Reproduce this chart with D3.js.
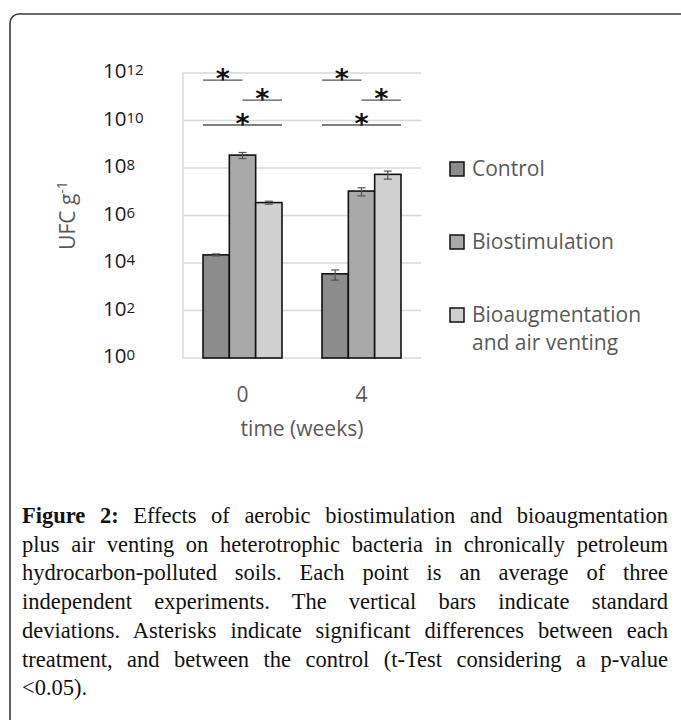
<!DOCTYPE html>
<html>
<head>
<meta charset="utf-8">
<script src="https://cdn.jsdelivr.net/npm/d3@7"></script>
<style>
  body { margin: 0; background: #fff; }
  #wrap { position: relative; width: 681px; height: 720px; overflow: hidden; }
  svg { position: absolute; left: 0; top: 0; }
  .tick-y { font-family: 'Open Sans', sans-serif; fill: #1a1a1a; }
  .label { font-family: 'Open Sans', sans-serif; fill: #595959; font-size: 21px; }
  #caption {
    position: absolute; left: 22px; top: 502px; width: 646px;
    font-family: 'Liberation Serif', 'Times New Roman', serif;
    font-size: 22.5px; line-height: 28.7px; color: #111;
  }
  #caption div { text-align: justify; text-align-last: justify; white-space: nowrap; }
  #caption div.last { text-align-last: left; }
</style>
</head>
<body>
<div id="wrap">
  <svg id="chart" width="681" height="720"></svg>
  <div id="caption"></div>
</div>
<script>
const weeks = ['0', '4'];
const series = ['Control', 'Biostimulation', 'Bioaugmentation and air venting'];
const control = [2.2e4, 3.5e3];
const biostimulation = [3.5e8, 1.07e7];
const bioaugmentation = [3.5e6, 5.4e7];
const controlSd = [2.2e3, 1.6e3];
const biostimulationSd = [1.0e8, 4.0e6];
const bioaugmentationSd = [0.5e6, 2.0e7];
const yTicks = [0, 2, 4, 6, 8, 10, 12]; // exponents of 10
// significance brackets: pairs of series and the level (log10 UFC) where drawn
const sigPairs = [[0, 1], [1, 2], [0, 2]];
const sigLevels = [11.7, 10.86, 9.81];

const captionLines = [
  'Effects of aerobic biostimulation and bioaugmentation',
  'plus air venting on heterotrophic bacteria in chronically petroleum',
  'hydrocarbon-polluted soils. Each point is an average of three',
  'independent experiments. The vertical bars indicate standard',
  'deviations. Asterisks indicate significant differences between each',
  'treatment, and between the control (t-Test considering a p-value',
  '<0.05).',
];

const values = [control, biostimulation, bioaugmentation];
const sds = [controlSd, biostimulationSd, bioaugmentationSd];
const colors = ['#8c8c8c', '#a9a9a9', '#d0d0d0'];

const svg = d3.select('#chart');

// frame
svg.append('rect')
  .attr('x', 10).attr('y', 14)
  .attr('width', 720).attr('height', 760)
  .attr('rx', 9)
  .attr('fill', 'none')
  .attr('stroke', '#3a3a3a')
  .attr('stroke-width', 1.6);

const plot = { left: 183, right: 421, top: 73, bottom: 358 };

const x0 = d3.scaleBand().domain(weeks).range([plot.left, plot.right]).padding(0);
const x1 = d3.scaleBand().domain(d3.range(series.length))
  .range([0, x0.bandwidth()]).paddingInner(0).paddingOuter(0.76);
const y = d3.scaleLog().domain([1, 1e12]).range([plot.bottom, plot.top]);

// gridlines
svg.append('g')
  .selectAll('line')
  .data(yTicks)
  .join('line')
  .attr('x1', plot.left)
  .attr('x2', plot.right)
  .attr('y1', (e) => y(Math.pow(10, e)))
  .attr('y2', (e) => y(Math.pow(10, e)))
  .attr('stroke', '#d9d9d9')
  .attr('stroke-width', 1.5);

// left axis line
svg.append('line')
  .attr('x1', plot.left).attr('x2', plot.left)
  .attr('y1', plot.top).attr('y2', plot.bottom)
  .attr('stroke', '#d9d9d9').attr('stroke-width', 1.5);

// y tick labels 10^n
const yl = svg.append('g')
  .selectAll('text')
  .data(yTicks)
  .join('text')
  .attr('class', 'tick-y')
  .attr('x', 103)
  .attr('y', (e) => y(Math.pow(10, e)) + 5)
  .attr('font-size', 20.5);
yl.append('tspan').text('10');
yl.append('tspan').attr('font-size', 15).attr('dy', -3).text((e) => e);

// bars
const groups = svg.append('g')
  .selectAll('g')
  .data(weeks)
  .join('g')
  .attr('transform', (d) => `translate(${x0(d)},0)`);

const barData = (d, wi) => series.map((s, si) => ({
  si,
  v: values[si][wi],
  sd: sds[si][wi],
}));

groups.each(function (d, wi) {
  const g = d3.select(this);
  const data = barData(d, wi);

  g.selectAll('rect')
    .data(data)
    .join('rect')
    .attr('x', (b) => x1(b.si))
    .attr('y', (b) => y(b.v))
    .attr('width', x1.bandwidth())
    .attr('height', (b) => y(1) - y(b.v))
    .attr('fill', (b) => colors[b.si])
    .attr('stroke', '#111')
    .attr('stroke-width', 1.6);

  // error bars
  const eb = g.selectAll('g.err')
    .data(data)
    .join('g')
    .attr('class', 'err')
    .attr('stroke', '#555')
    .attr('stroke-width', 1.2);
  const cx = (b) => x1(b.si) + x1.bandwidth() / 2;
  eb.append('line')
    .attr('x1', cx).attr('x2', cx)
    .attr('y1', (b) => y(b.v + b.sd))
    .attr('y2', (b) => y(Math.max(b.v - b.sd, 1)));
  eb.append('line')
    .attr('x1', (b) => cx(b) - 4).attr('x2', (b) => cx(b) + 4)
    .attr('y1', (b) => y(b.v + b.sd)).attr('y2', (b) => y(b.v + b.sd));
  eb.append('line')
    .attr('x1', (b) => cx(b) - 4).attr('x2', (b) => cx(b) + 4)
    .attr('y1', (b) => y(Math.max(b.v - b.sd, 1)))
    .attr('y2', (b) => y(Math.max(b.v - b.sd, 1)));

  // significance brackets
  const bw = x1.bandwidth();
  sigPairs.forEach(([a, b], i) => {
    const xa = a === 0 ? x1(a) : x1(a) + bw / 2;
    const xb = b === series.length - 1 ? x1(b) + bw : x1(b) + bw / 2;
    const ly = y(Math.pow(10, sigLevels[i]));
    g.append('line')
      .attr('x1', xa).attr('x2', xb)
      .attr('y1', ly).attr('y2', ly)
      .attr('stroke', '#555')
      .attr('stroke-width', 1.4);
    g.append('text')
      .attr('x', (xa + xb) / 2)
      .attr('y', ly + 8)
      .attr('text-anchor', 'middle')
      .attr('font-family', 'DejaVu Sans, sans-serif')
      .attr('font-size', 27)
      .attr('font-weight', 'bold')
      .attr('fill', '#111')
      .text('*');
  });
});

// x tick labels
svg.append('g')
  .selectAll('text')
  .data(weeks)
  .join('text')
  .attr('class', 'label')
  .attr('x', (d) => x0(d) + x0.bandwidth() / 2)
  .attr('y', 402)
  .attr('text-anchor', 'middle')
  .text((d) => d);

svg.append('text')
  .attr('class', 'label')
  .attr('x', (plot.left + plot.right) / 2)
  .attr('y', 436)
  .attr('text-anchor', 'middle')
  .text('time (weeks)');

// y axis title
const yt = svg.append('text')
  .attr('class', 'label')
  .attr('transform', `translate(75,${(plot.top + plot.bottom) / 2}) rotate(-90)`)
  .attr('text-anchor', 'middle');
yt.append('tspan').text('UFC g');
yt.append('tspan').attr('font-size', 14).attr('dy', -8).text('-1');

// legend
const legendY = [162, 235, 308];
const leg = svg.append('g')
  .selectAll('g')
  .data(series)
  .join('g')
  .attr('transform', (d, i) => `translate(450,${legendY[i]})`);
leg.append('rect')
  .attr('width', 14).attr('height', 14)
  .attr('fill', (d, i) => colors[i])
  .attr('stroke', '#111')
  .attr('stroke-width', 1.5);
const legText = leg.append('text')
  .attr('class', 'label')
  .attr('x', 22)
  .attr('y', 14);
legText.each(function (d) {
  const t = d3.select(this);
  const parts = d === 'Bioaugmentation and air venting'
    ? ['Bioaugmentation', 'and air venting'] : [d];
  parts.forEach((p, k) => {
    t.append('tspan').attr('x', 22).attr('dy', k === 0 ? 0 : 27.5).text(p);
  });
});

// caption
const cap = d3.select('#caption');
captionLines.forEach((line, i) => {
  const div = cap.append('div');
  if (i === captionLines.length - 1) div.attr('class', 'last');
  if (i === 0) {
    div.append('b').text('Figure 2:');
    div.append('span').text(' ' + line);
  } else {
    div.text(line);
  }
});
</script>
</body>
</html>
